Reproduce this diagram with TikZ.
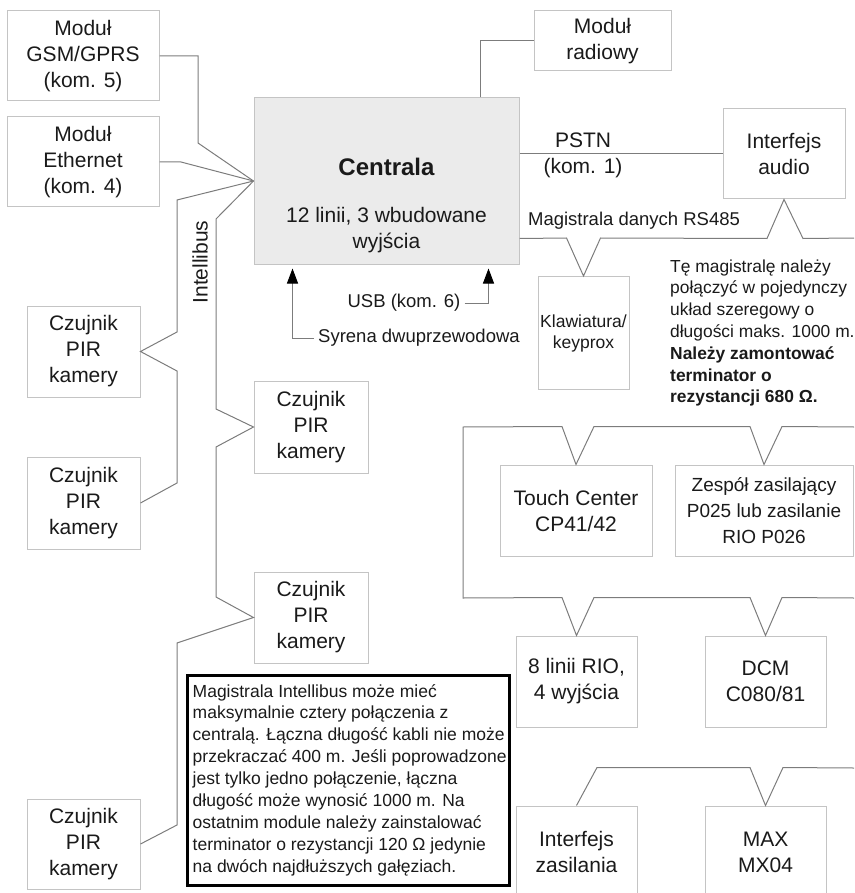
\documentclass[tikz,border=0pt]{standalone}
\usepackage{fontspec}
\setmainfont{Liberation Sans}
\usetikzlibrary{arrows.meta,calc}

\definecolor{boxline}{HTML}{C4C4C4}
\definecolor{wireline}{HTML}{7C7C7C}
\definecolor{panelfill}{HTML}{EBEBEB}
\definecolor{ink}{HTML}{1A1A1A}

\begin{document}
\begin{tikzpicture}[x=1pt,y=-1pt,
  box/.style={draw=boxline, line width=1pt, align=center, inner sep=0pt, text=ink,
              font=\fontsize{21}{26}\selectfont},
  wire/.style={draw=wireline, line width=1pt, line join=miter},
  lbl/.style={inner sep=0pt, text=ink, font=\fontsize{18.5}{22}\selectfont},
  bigl/.style={inner sep=0pt, text=ink, align=center, font=\fontsize{21}{26}\selectfont},
  smalltxt/.style={inner sep=0pt, text=ink, align=left, font=\fontsize{17.4}{21.8}\selectfont},
  sig/.style={wire, -{Triangle[length=15pt,width=11pt,color=black]}},
]
\useasboundingbox (0,0) rectangle (854,893);
\clip (0,0) rectangle (854,893);

% ---- control panel and its modules
\node[box, fill=panelfill, minimum width=265pt, minimum height=166pt] (centrala) at (386.5,181) {};
\node[inner sep=0pt, text=ink, font=\bfseries\fontsize{24}{28}\selectfont] at (386.5,167) {Centrala};
\node[bigl] at (386.5,230) {12 linii, 3 wbudowane\\wyjścia};

\node[box, minimum width=152pt, minimum height=90pt] (gsm) at (83,56) {Moduł\\GSM/GPRS\\(kom. 5)};
\node[box, minimum width=152pt, minimum height=90pt] (eth) at (83,162) {Moduł\\Ethernet\\(kom. 4)};
\node[box, minimum width=137pt, minimum height=60pt] (radio) at (602.5,41) {Moduł\\radiowy};
\node[box, minimum width=122pt, minimum height=90pt] (audio) at (784,154) {Interfejs\\audio};
\node[box, minimum width=91pt, minimum height=113pt, font=\fontsize{17.5}{21}\selectfont] (kbd) at (583.5,333) {Klawiatura/\\keyprox};

% ---- Intellibus detectors
\node[box, minimum width=113pt, minimum height=91pt] (pir1) at (83.5,351.5) {Czujnik\\PIR\\kamery};
\node[box, minimum width=113pt, minimum height=92pt] (pir2) at (83.5,503) {Czujnik\\PIR\\kamery};
\node[box, minimum width=114pt, minimum height=92pt] (pir3) at (311,427) {Czujnik\\PIR\\kamery};
\node[box, minimum width=114pt, minimum height=91pt] (pir4) at (311,617.5) {Czujnik\\PIR\\kamery};
\node[box, minimum width=113pt, minimum height=90pt] (pir5) at (83.5,844) {Czujnik\\PIR\\kamery};

% ---- RS485 bus devices
\node[box, minimum width=152pt, minimum height=91pt] (touch) at (576,510.5) {Touch Center\\CP41/42};
\node[box, minimum width=178pt, minimum height=91pt, font=\fontsize{19}{26}\selectfont] (zesp) at (764,510.5) {Zespół zasilający\\P025 lub zasilanie\\RIO P026};
\node[box, minimum width=121pt, minimum height=91pt] (rio8) at (576.5,681.5) {8 linii RIO,\\4 wyjścia};
\node[box, minimum width=121pt, minimum height=91pt] (dcm) at (765.5,681.5) {DCM\\C080/81};
\node[box, minimum width=121pt, minimum height=92pt] (zas) at (576.5,852) {Interfejs\\zasilania};
\node[box, minimum width=121pt, minimum height=92pt] (max) at (765.5,852) {MAX\\MX04};

% ---- free ends of the buses at the right edge
\coordinate (rs-end) at (854,238);
\coordinate (riotop-end) at (854,427);
\coordinate (riobot-end) at (854,598);
\coordinate (bus3-end) at (854,768);

% ---- modules on the left
\draw[wire] (gsm.east) -| (198,143) -- (centrala.west);
\draw[wire] (eth.east) -- (181,162) -- (centrala.west);

% ---- Intellibus branches
\draw[wire] (centrala.west) -- (177,200) -- (177,332) -- (pir1.east) -- (177,371)
            -- (177,483) -- (pir2.east);
\draw[wire] (centrala.west) -- (216,219) -- (216,409) -- (pir3.west) -- (216,447)
            -- (216,597) -- (pir4.west) -- (177,643) -- (177,825) -- (pir5.east);
\node[bigl, rotate=90] (ibus) at (200,262) {Intellibus};

% ---- radio module and PSTN
\draw[wire] ($(centrala.north west)+(227,0)$) |- (radio.west);
\draw[wire] (audio.west -| centrala.east) -- (audio.west);
\node[bigl] (pstn) at (583,155) {PSTN\\(kom. 1)};

% ---- RS485 data bus
\draw[wire] ($(centrala.south east)+(0,-26)$) -- ($(kbd.north)+(-17,-38)$) -- (kbd.north)
            -- ($(kbd.north)+(17,-38)$) -- ($(audio.south)+(-17,39)$) -- (audio.south)
            -- ($(audio.south)+(19,39)$) -- (rs-end);
\node[lbl] (rslbl) at (634,221) {Magistrala danych RS485};

\node[smalltxt, anchor=west] (rsnote) at (670,333) {Tę magistralę należy\\połączyć w pojedynczy\\układ szeregowy o\\długości maks. 1000 m.\\\textbf{Należy zamontować}\\\textbf{terminator o}\\\textbf{rezystancji 680 Ω.}};

\draw[wire] (riotop-end) -- ($(zesp.north)+(18,-38)$) -- (zesp.north) -- ($(zesp.north)+(-14,-38)$)
            -- ($(touch.north)+(18,-38)$) -- (touch.north) -- ($(touch.north)+(-14,-38)$)
            -- (463,427) -- (463,598)
            -- ($(rio8.north)+(-14.5,-38)$) -- (rio8.north) -- ($(rio8.north)+(17.5,-38)$)
            -- ($(dcm.north)+(-15.5,-38)$) -- (dcm.north) -- ($(dcm.north)+(16.5,-38)$)
            -- (riobot-end);

\draw[wire] (zas.north) -- ($(zas.north)+(20.5,-38)$) -- ($(max.north)+(-15.5,-38)$) -- (max.north)
            -- ($(max.north)+(17.5,-38)$) -- (bus3-end);

% ---- siren and USB inputs
\node[lbl, anchor=west, inner xsep=4pt] (syr) at (314,338) {Syrena dwuprzewodowa};
\draw[sig] (syr.west) -| ($(centrala.south west)+(39,4)$);
\node[lbl, inner xsep=4pt] (usb) at (404,303) {USB (kom. 6)};
\draw[sig] (usb.east) -| ($(centrala.south west)+(235,4)$);

% ---- Intellibus note
\node[draw=black, line width=3pt, minimum width=322pt, minimum height=210pt, inner sep=0pt] (note) at (348,780) {};
\node[smalltxt, anchor=west, font=\fontsize{17.5}{21.9}\selectfont] (notetext) at ($(note.west)+(7,0)$) {Magistrala Intellibus może mieć\\maksymalnie cztery połączenia z\\centralą. Łączna długość kabli nie może\\przekraczać 400 m. Jeśli poprowadzone\\jest tylko jedno połączenie, łączna\\długość może wynosić 1000 m. Na\\ostatnim module należy zainstalować\\terminator o rezystancji 120 Ω jedynie\\na dwóch najdłuższych gałęziach.};
\end{tikzpicture}
\end{document}
